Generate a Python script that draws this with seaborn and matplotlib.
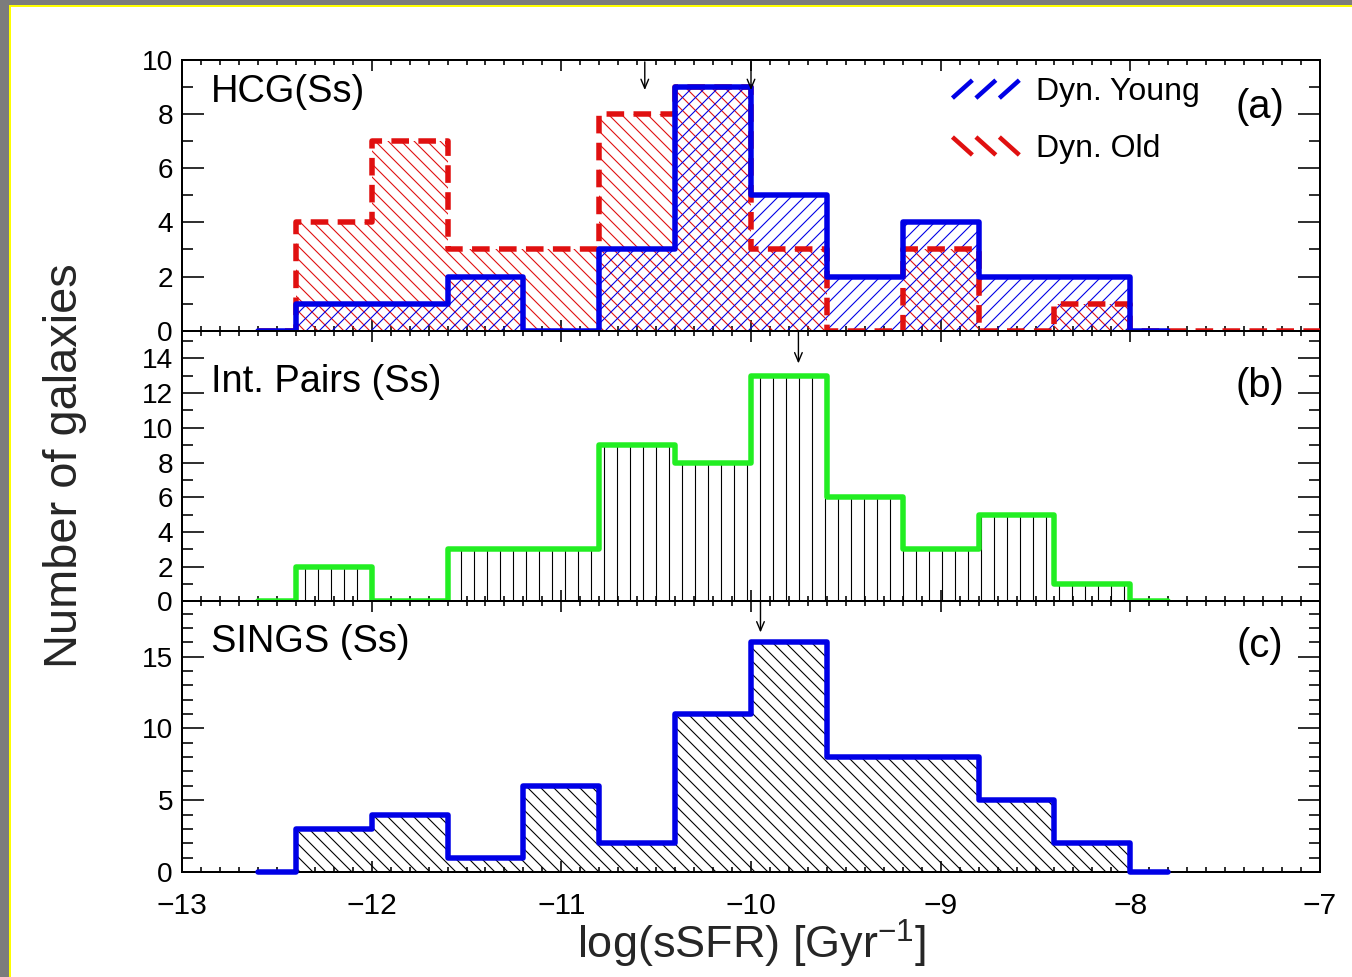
import numpy as np
import matplotlib
matplotlib.use("Agg")
import matplotlib.pyplot as plt
import seaborn as sns
from matplotlib.lines import Line2D
from matplotlib.patches import Rectangle
from matplotlib.legend_handler import HandlerBase
from matplotlib.ticker import MultipleLocator

# ---------------------------------------------------------------------------
# Histogram data: bin centres of log(sSFR) [Gyr^-1] (0.4 dex bins) and counts
# ---------------------------------------------------------------------------
bin_centers = [-12.6, -12.2, -11.8, -11.4, -11.0, -10.6, -10.2,
               -9.8, -9.4, -9.0, -8.6, -8.2, -7.8]
old_bin_centers = [-12.6, -12.2, -11.8, -11.4, -11.0, -10.6, -10.2,
                   -9.8, -9.4, -9.0, -8.6, -8.2, -7.8, -7.4, -7.0]

hcg_young = [0, 1, 1, 2, 0, 3, 9, 5, 2, 4, 2, 2, 0]
hcg_old = [0, 4, 7, 3, 3, 8, 9, 3, 0, 3, 0, 1, 0, 0, 0]
int_pairs = [0, 2, 0, 3, 3, 9, 8, 13, 6, 3, 5, 1, 0]
sings = [0, 3, 4, 1, 6, 2, 11, 16, 8, 8, 5, 2, 0]

# median log(sSFR) markers of each sample
hcg_medians = [-10.56, -10.0]
pairs_median = [-9.75]
sings_median = [-9.95]

panel_names = ["HCG(Ss)", "Int. Pairs (Ss)", "SINGS (Ss)"]
panel_tags = ["(a)", "(b)", "(c)"]
legend_labels = ["Dyn. Young", "Dyn. Old"]
x_ticks = [-13, -12, -11, -10, -9, -8, -7]

# ---------------------------------------------------------------------------
W, H = 1352, 977
DPI = 78


def pt(px):
    """pixel size -> points at the figure resolution"""
    return px * 72.0 / DPI


sns.set_theme(style="white")
plt.rcParams.update({
    "font.family": ["Liberation Sans", "DejaVu Sans"],
    "mathtext.fontset": "custom",
    "mathtext.rm": "Liberation Sans",
    "mathtext.it": "Liberation Sans:italic",
    "hatch.linewidth": pt(1.1),
    "axes.edgecolor": "black",
    "text.color": "black",
    "xtick.color": "black",
    "ytick.color": "black",
})

BLUE = "#0000e6"
RED = "#e01010"
GREEN = "#22ee22"
LW = pt(5.5)

fig, axes = plt.subplots(3, 1, figsize=(W / DPI, H / DPI), dpi=DPI,
                         sharex=True, gridspec_kw={"hspace": 0})
fig.patch.set_facecolor("white")
fig.subplots_adjust(left=182 / W, right=1320 / W, top=1 - 60 / H, bottom=1 - 872 / H)


def hatched(ax, x, y, hatch, color):
    ax.fill_between(x, y, step="mid", facecolor="none", edgecolor=color,
                    linewidth=0, hatch=hatch, zorder=1)


def outline(ax, x, y, color, **kw):
    sns.lineplot(x=x, y=y, ax=ax, drawstyle="steps-mid", color=color,
                 linewidth=LW, clip_on=False, errorbar=None, **kw)


def median_arrow(ax, x, y0, y1):
    ax.annotate("", xy=(x, y1), xytext=(x, y0),
                xycoords=("data", "axes fraction"),
                textcoords=("data", "axes fraction"),
                arrowprops=dict(arrowstyle="->,head_length=0.9,head_width=0.38",
                                color="black", lw=pt(1.4), shrinkA=0, shrinkB=0,
                                mutation_scale=pt(10)),
                zorder=6)


# (a) compact groups: dynamically old and young
ax = axes[0]
hatched(ax, old_bin_centers, hcg_old, "\\\\", RED)
hatched(ax, bin_centers, hcg_young, "//", BLUE)
outline(ax, old_bin_centers, hcg_old, RED, linestyle=(0, (3.2, 1.7)), zorder=4)
outline(ax, bin_centers, hcg_young, BLUE, zorder=5)
ax.set_ylim(0, 10)
ax.yaxis.set_major_locator(MultipleLocator(2))
ax.yaxis.set_minor_locator(MultipleLocator(1))
for m in hcg_medians:
    median_arrow(ax, m, 0.993, 0.889)


class SlashHandler(HandlerBase):
    """Legend key drawn as three short slanted strokes."""

    def __init__(self, rising, **kw):
        super().__init__(**kw)
        self.rising = rising

    def create_artists(self, legend, orig_handle, xdescent, ydescent,
                       width, height, fontsize, trans):
        step = width / 3.0
        h = height * 0.8
        y_lo = -ydescent + (height - h) / 2.0
        y_hi = y_lo + h
        arts = []
        for i in range(3):
            x0 = -xdescent + i * step
            x1 = x0 + step * 0.85
            ys = (y_lo, y_hi) if self.rising else (y_hi, y_lo)
            arts.append(Line2D([x0, x1], ys, color=orig_handle.get_color(),
                               linewidth=orig_handle.get_linewidth(),
                               solid_capstyle="butt", transform=trans))
        return arts


h_young = Line2D([], [], color=BLUE, linewidth=pt(4.5))
h_old = Line2D([], [], color=RED, linewidth=pt(4.5))
ax.legend([h_young, h_old], legend_labels,
          handler_map={h_young: SlashHandler(True), h_old: SlashHandler(False)},
          loc="upper left", bbox_to_anchor=(0.677, 0.936), frameon=False,
          fontsize=pt(32), handlelength=2.2, handletextpad=0.4,
          labelspacing=0.84, borderpad=0, borderaxespad=0)

# (b) interacting pairs
ax = axes[1]
hatched(ax, bin_centers, int_pairs, "|", "black")
outline(ax, bin_centers, int_pairs, GREEN, zorder=5)
ax.set_ylim(0, 15.6)
ax.yaxis.set_major_locator(MultipleLocator(2))
ax.yaxis.set_minor_locator(MultipleLocator(1))
for m in pairs_median:
    median_arrow(ax, m, 1.0, 0.879)

# (c) SINGS
ax = axes[2]
hatched(ax, bin_centers, sings, "\\\\", "black")
outline(ax, bin_centers, sings, BLUE, zorder=5)
ax.set_ylim(0, 18.85)
ax.yaxis.set_major_locator(MultipleLocator(5))
ax.yaxis.set_minor_locator(MultipleLocator(1))
for m in sings_median:
    median_arrow(ax, m, 1.0, 0.885)

# common styling
name_y = [0.844, 0.772, 0.811]
tag_y = [0.785, 0.754, 0.796]
for ax, name, tag, ny, ty in zip(axes, panel_names, panel_tags, name_y, tag_y):
    ax.set_xlim(-13, -7)
    ax.set_xticks(x_ticks)
    ax.xaxis.set_minor_locator(MultipleLocator(0.1))
    ax.tick_params(which="both", direction="in", top=True, right=True,
                   bottom=True, left=True, width=pt(1.6))
    ax.tick_params(axis="x", which="major", length=pt(11), labelsize=pt(30), pad=pt(20))
    ax.tick_params(axis="x", which="minor", length=pt(5))
    ax.tick_params(axis="y", which="major", length=pt(22), labelsize=pt(28), pad=pt(9))
    ax.tick_params(axis="y", which="minor", length=pt(11))
    for s in ax.spines.values():
        s.set_visible(True)
        s.set_color("black")
        s.set_linewidth(pt(2))
        s.set_zorder(3)
    ax.set_xlabel("")
    ax.set_ylabel("")
    ax.text(0.0255, ny, name, transform=ax.transAxes, ha="left", va="baseline",
            fontsize=pt(38))
    ax.text(0.947, ty, tag, transform=ax.transAxes, ha="center", va="baseline",
            fontsize=pt(40))

axes[2].set_xlabel(r"log(sSFR) [Gyr$^{-1}$]", fontsize=pt(45))
axes[2].xaxis.set_label_coords(0.5, -0.17)
axes[1].set_ylabel("Number of galaxies", fontsize=pt(47))
axes[1].yaxis.set_label_coords(-0.103, 0.5)
axes[1].yaxis.label.set_verticalalignment("center")

# window frame: grey strip with a yellow rule along the top and left edges
fig.add_artist(Rectangle((0, 1 - 5 / H), 1, 5 / H, transform=fig.transFigure,
                         facecolor="#7c7c7c", edgecolor="none", zorder=0))
fig.add_artist(Rectangle((0, 0), 9 / W, 1, transform=fig.transFigure,
                         facecolor="#7c7c7c", edgecolor="none", zorder=0))
fig.add_artist(Rectangle((9 / W, 1 - 7 / H), 1, 2 / H, transform=fig.transFigure,
                         facecolor="#ffff00", edgecolor="none", zorder=0))
fig.add_artist(Rectangle((9 / W, 0), 2 / W, 1 - 5 / H, transform=fig.transFigure,
                         facecolor="#ffff00", edgecolor="none", zorder=0))

fig.savefig("out.png", dpi=DPI, facecolor="white")
